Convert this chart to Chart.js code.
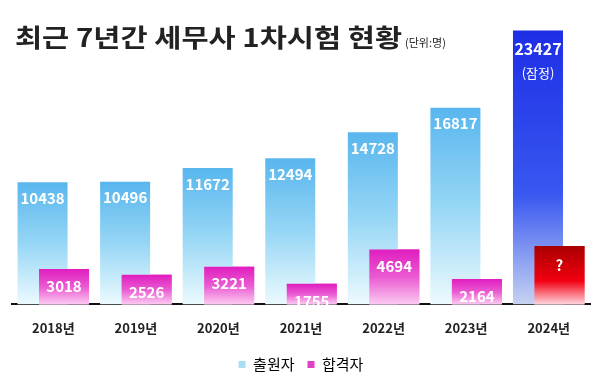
<!DOCTYPE html>
<html>
<head>
<meta charset="utf-8">
<script src="https://cdn.jsdelivr.net/npm/chart.js@4/dist/chart.umd.min.js"></script>
<style>
  html, body { margin: 0; padding: 0; background: #fff; }
  #wrap { width: 600px; height: 386px; position: relative; }
</style>
</head>
<body>
<div id="wrap"><canvas id="myChart" width="600" height="386"></canvas></div>
<script>
const years = ['2018년', '2019년', '2020년', '2021년', '2022년', '2023년', '2024년'];
const applicants = [10438, 10496, 11672, 12494, 14728, 16817, 23427];
// 2024 합격자 not announced yet -> bar height, label shown as '?'
const passers = [3018, 2526, 3221, 1755, 4694, 2164, 5000];
const passLabels = ['3018', '2526', '3221', '1755', '4694', '2164', '?'];
const seriesNames = ['출원자', '합격자'];

const KR = '"Noto Sans CJK KR", "Noto Sans", sans-serif';

// vertical gradient for one bar, from its top down to the baseline
function barGradient(c, stops, fallback) {
  const chart = c.chart;
  const { chartArea, scales } = chart;
  if (!chartArea || c.raw === undefined) return fallback;
  const top = scales.y.getPixelForValue(c.raw);
  const bottom = scales.y.getPixelForValue(0);
  const g = chart.ctx.createLinearGradient(0, top, 0, bottom);
  stops.forEach(s => g.addColorStop(s[0], s[1]));
  return g;
}

const blueStops = [[0, '#58b6ee'], [0.5, '#96d6f5'], [1, '#ecfafe']];
const deepBlueStops = [[0, '#1e2ee6'], [0.6, '#3858f0'], [1, '#c6d3f2']];
const pinkStops = [[0, '#e01ebf'], [0.5, '#ea5ad2'], [1, '#fccaf1']];
const redStops = [[0, '#a80000'], [0.6, '#f20012'], [1, '#ffd6de']];

const titlePlugin = {
  id: 'title',
  afterDraw(chart) {
    const ctx = chart.ctx;
    ctx.save();
    ctx.fillStyle = '#222';
    ctx.textBaseline = 'middle';
    ctx.textAlign = 'left';
    ctx.font = 'bold 25px ' + KR;
    const t = '최근 7년간 세무사 1차시험 현황';
    // the original font is wider, stretch to the same span
    const sx = 387 / ctx.measureText(t).width;
    ctx.save();
    ctx.translate(15, 37);
    ctx.scale(sx, 1);
    ctx.fillText(t, 0, 0);
    ctx.restore();
    ctx.font = '11px ' + KR;
    ctx.fillText('(단위:명)', 405, 43);
    ctx.restore();
  }
};

const labelPlugin = {
  id: 'barLabels',
  afterDatasetsDraw(chart) {
    const ctx = chart.ctx;
    // passers drawn again so they sit over the applicant bars
    chart.getDatasetMeta(1).data.forEach(el => el.draw(ctx));
    ctx.save();
    ctx.fillStyle = '#fff';
    ctx.textAlign = 'center';
    ctx.textBaseline = 'middle';
    chart.getDatasetMeta(0).data.forEach((el, i) => {
      if (i === years.length - 1) {
        ctx.font = 'bold 16px ' + KR;
        ctx.fillText(String(applicants[i]), el.x, el.y + 19);
        ctx.font = '13px ' + KR;
        ctx.fillText('(잠정)', el.x, el.y + 43);
      } else {
        ctx.font = 'bold 15px ' + KR;
        ctx.fillText(String(applicants[i]), el.x, el.y + 16);
      }
    });
    chart.getDatasetMeta(1).data.forEach((el, i) => {
      ctx.font = 'bold 15px ' + KR;
      ctx.fillText(passLabels[i], el.x, el.y + (i === years.length - 1 ? 19 : 17));
    });
    ctx.restore();
  }
};

new Chart(document.getElementById('myChart').getContext('2d'), {
  type: 'bar',
  data: {
    labels: years,
    datasets: [{
      label: seriesNames[0],
      data: applicants,
      backgroundColor: c => c.dataIndex === years.length - 1
        ? barGradient(c, deepBlueStops, '#2a40ea')
        : barGradient(c, blueStops, '#8fd4f4'),
      categoryPercentage: 0.52,
      barPercentage: 2.33
    }, {
      label: seriesNames[1],
      data: passers,
      backgroundColor: c => c.dataIndex === years.length - 1
        ? barGradient(c, redStops, '#e00010')
        : barGradient(c, pinkStops, '#e84ccc'),
      categoryPercentage: 0.52,
      barPercentage: 2.33
    }]
  },
  options: {
    responsive: false,
    animation: false,
    layout: { padding: { top: 12, left: 12, right: 10, bottom: 4 } },
    plugins: {
      tooltip: { enabled: false },
      legend: {
        position: 'bottom',
        labels: {
          boxWidth: 7,
          boxHeight: 7,
          padding: 13,
          color: '#444',
          font: { family: KR, size: 15 },
          generateLabels: () => [
            { text: seriesNames[0], fillStyle: '#a6e0f2', strokeStyle: '#a6e0f2', lineWidth: 0, datasetIndex: 0 },
            { text: seriesNames[1], fillStyle: '#e040c4', strokeStyle: '#e040c4', lineWidth: 0, datasetIndex: 1 }
          ]
        }
      }
    },
    scales: {
      x: {
        grid: { display: false },
        border: { display: true, color: '#111', width: 2 },
        ticks: { color: '#222', font: { family: KR, size: 13, weight: 'bold' }, padding: 8 }
      },
      y: {
        display: false,
        min: 0,
        max: 25000
      }
    }
  },
  plugins: [titlePlugin, labelPlugin]
});
</script>
</body>
</html>
